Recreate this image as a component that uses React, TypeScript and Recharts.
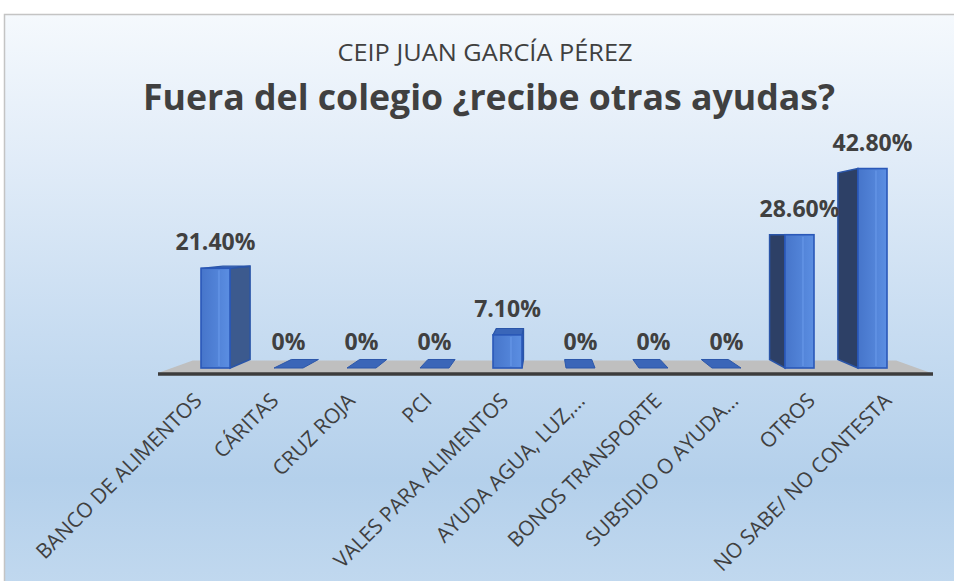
import { BarChart, Bar, XAxis, YAxis, LabelList } from 'recharts'

const categories = [
  'BANCO DE ALIMENTOS',
  'CÁRITAS',
  'CRUZ ROJA',
  'PCI',
  'VALES PARA ALIMENTOS',
  'AYUDA AGUA, LUZ,…',
  'BONOS TRANSPORTE',
  'SUBSIDIO O AYUDA…',
  'OTROS',
  'NO SABE/ NO CONTESTA',
]
const values = [21.4, 0, 0, 0, 7.1, 0, 0, 0, 28.6, 42.8]
const yDomain = [0, 50]

const data = categories.map((name, i) => ({ name, value: values[i] }))

const W = 954
const H = 581
// perspective: vanishing point and depth factor
const VP_X = 544
const VP_Y = 235
const K = 0.064
const FLOOR_K = 0.09

const MARGIN = { top: 135, right: 45, bottom: 183, left: 179 }
const PLOT_BOTTOM = H - MARGIN.bottom - 30

const back = (px: number, py: number, k = K) => [px + k * (VP_X - px), py + k * (VP_Y - py)]
const pts = (arr: number[][]) => arr.map((p) => p.join(',')).join(' ')

function Bar3D(props: any) {
  const { x, y, width, height } = props
  const x0 = x
  const x1 = x + width
  const yT = y
  const yB = y + height
  if (height < 0.5) {
    const poly = [[x0, yB], [x1, yB], back(x1, yB), back(x0, yB)]
    return <polygon points={pts(poly)} fill="#3b66b8" stroke="#2c57aa" strokeWidth={1} />
  }
  const cx = x + width / 2
  const rightSide = cx < VP_X
  const sx = rightSide ? x1 : x0
  const side = [[sx, yT], back(sx, yT), back(sx, yB), [sx, yB]]
  const showTop = yT > VP_Y
  const top = [[x0, yT], [x1, yT], back(x1, yT), back(x0, yT)]
  return (
    <g>
      <polygon
        points={pts(side)}
        fill={rightSide ? '#3c5a8e' : '#2d4066'}
        stroke="#2a55a8"
        strokeWidth={1.5}
      />
      {showTop && <polygon points={pts(top)} fill="#3a66b9" stroke="#2a55a8" strokeWidth={1.2} />}
      <rect x={x0} y={yT} width={width} height={height} fill="url(#frontGrad)" stroke="#2a58b8" strokeWidth={1.6} />
      <line x1={x0 + width * 0.62} y1={yT + 2} x2={x0 + width * 0.62} y2={yB - 2} stroke="#6b9ceb" strokeWidth={1} />
    </g>
  )
}

function ValueLabel(props: any) {
  const { x, y, width, value } = props
  const txt = value === 0 ? '0%' : `${Number(value).toFixed(2)}%`
  return (
    <text
      x={x + width / 2}
      y={y - 18}
      textAnchor="middle"
      fontFamily="'Open Sans', sans-serif"
      fontWeight={700}
      fontSize={23}
      fill="#404040"
    >
      {txt}
    </text>
  )
}

function Tick(props: any) {
  const { x, y, payload } = props
  const tx = x + 4 + 0.05 * (x - VP_X)
  const ty = y + 26
  return (
    <text
      x={tx}
      y={ty}
      textAnchor="end"
      transform={`rotate(-45 ${tx} ${ty})`}
      fontFamily="'Open Sans', sans-serif"
      fontSize={20.8}
      fill="#404040"
    >
      {payload.value}
    </text>
  )
}

function Backdrop() {
  const fy = PLOT_BOTTOM + 5
  const fl = 158
  const fr = 931
  const bl = back(fl, fy, FLOOR_K)
  const br = back(fr, fy, FLOOR_K)
  return (
    <svg width={W} height={H} style={{ position: 'absolute', left: 0, top: 0 }}>
      <defs>
        <linearGradient id="bg" x1="0" y1="0" x2="0" y2="1">
          <stop offset="0" stopColor="#f5f9fd" />
          <stop offset="0.25" stopColor="#e1ecf8" />
          <stop offset="0.55" stopColor="#c7dcf1" />
          <stop offset="0.8" stopColor="#b4d0eb" />
          <stop offset="1" stopColor="#c2d9ef" />
        </linearGradient>
      </defs>
      <rect x={4.5} y={14.5} width={W} height={H} fill="url(#bg)" stroke="#c4c4c4" strokeWidth={1.5} />
      <text
        x={485}
        y={61}
        textAnchor="middle"
        fontFamily="'Open Sans', sans-serif"
        fontSize={23}
        fill="#404040"
        textLength={295}
        lengthAdjust="spacingAndGlyphs"
      >
        CEIP JUAN GARCÍA PÉREZ
      </text>
      <text
        x={489}
        y={110}
        textAnchor="middle"
        fontFamily="'Open Sans', sans-serif"
        fontWeight={700}
        fontSize={35}
        fill="#404040"
        textLength={692}
        lengthAdjust="spacingAndGlyphs"
      >
        Fuera del colegio ¿recibe otras ayudas?
      </text>
      <polygon points={pts([[fl, fy], [fr, fy], br, bl])} fill="#bfbfbf" />
      <line x1={fl} y1={fy + 1} x2={fr + 2} y2={fy + 1} stroke="#3c3c3c" strokeWidth={3.5} />
    </svg>
  )
}

export default function App() {
  return (
    <div style={{ position: 'fixed', left: 0, top: 0, width: W, height: H, background: '#fff' }}>
      <Backdrop />
      <div style={{ position: 'absolute', left: 0, top: 0 }}>
        <BarChart width={W} height={H} data={data} margin={MARGIN} barSize={29}>
          <defs>
            <linearGradient id="frontGrad" x1="0" y1="0" x2="1" y2="0">
              <stop offset="0" stopColor="#4675ca" />
              <stop offset="1" stopColor="#5b8ee2" />
            </linearGradient>
          </defs>
          <XAxis
            dataKey="name"
            height={30}
            axisLine={false}
            tickLine={false}
            interval={0}
            tick={<Tick />}
          />
          <YAxis hide domain={yDomain} />
          <Bar dataKey="value" shape={<Bar3D />} isAnimationActive={false}>
            <LabelList dataKey="value" content={<ValueLabel />} />
          </Bar>
        </BarChart>
      </div>
    </div>
  )
}
